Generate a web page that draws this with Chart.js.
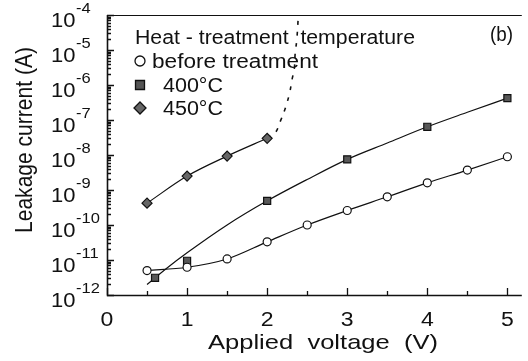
<!DOCTYPE html>
<html><head><meta charset="utf-8">
<script src="https://cdn.jsdelivr.net/npm/chart.js@4"></script>
<style>html,body{margin:0;padding:0;background:#fff}</style>
</head><body>
<canvas id="c" width="528" height="361" style="display:block;width:528px;height:361px"></canvas>
<script>
// ---- data ----
const voltBefore = [0.5, 1, 1.5, 2, 2.5, 3, 3.5, 4, 4.5, 5];
const currBefore = [5.0e-12, 6.2e-12, 1.07e-11, 3.3e-11, 1.0e-10, 2.6e-10, 6.4e-10, 1.6e-9, 3.7e-9, 8.9e-9];
const volt400 = [0.6, 1, 2, 3, 4, 5];
const curr400 = [3.1e-12, 9.5e-12, 4.9e-10, 7.5e-9, 6.4e-8, 4.2e-7];
const volt450 = [0.5, 1, 1.5, 2];
const curr450 = [4.2e-10, 2.5e-9, 9.3e-9, 3.0e-8];
// guide curves drawn in the figure
const fitVolt400 = [0.5, 0.75, 1, 1.5, 2, 2.5, 3, 3.5, 4, 4.5, 5];
const fitCurr400 = [2.0e-12, 5.9e-12, 1.6e-11, 1.0e-10, 4.9e-10, 2.0e-9, 7.5e-9, 2.2e-8, 6.4e-8, 1.66e-7, 4.2e-7];
const dashVolt = [2.0, 2.10, 2.16, 2.23, 2.28, 2.31, 2.34, 2.35, 2.37, 2.39];
const dashCurr = [3.0e-8, 4.3e-8, 8.7e-8, 2.3e-7, 5.9e-7, 1.4e-6, 3.1e-6, 8.1e-6, 1.95e-5, 1e-4];
// ticks
const xTickValues = [0, 1, 2, 3, 4, 5];
const xTickLabels = ['0', '1', '2', '3', '4', '5'];
const yTickExponents = [-12, -11, -10, -9, -8, -7, -6, -5, -4];
const legendTitle = 'Heat - treatment  temperature';
const seriesNames = ['before treatment', '400°C', '450°C'];
const panelLabel = '(b)';
const xTitle = 'Applied  voltage  (V)';
const yTitle = 'Leakage current (A)';

const FONT = '"Liberation Sans", Arial, Helvetica, sans-serif';
const pts = (xs, ys) => xs.map((x, i) => ({x, y: ys[i]}));

function drawScaled(ctx, text, x, y, sx, size, align) {
  ctx.save();
  ctx.font = size + 'px ' + FONT;
  ctx.translate(x, y);
  ctx.scale(sx, 1);
  ctx.textAlign = align || 'left';
  ctx.textBaseline = 'alphabetic';
  ctx.fillText(text, 0, 0);
  ctx.restore();
}
function drawFit(ctx, text, x, y, w, size, align) {
  ctx.font = size + 'px ' + FONT;
  const m = ctx.measureText(text).width;
  drawScaled(ctx, text, x, y, w / m, size, align);
}

const decor = {
  id: 'decor',
  afterDraw(chart) {
    const ctx = chart.ctx;
    const xs = chart.scales.x, ys = chart.scales.y;
    const a = chart.chartArea;
    ctx.save();
    ctx.strokeStyle = '#111';
    ctx.fillStyle = '#111';
    // frame
    ctx.lineWidth = 1.6;
    ctx.beginPath();
    ctx.moveTo(a.left + 0.5, a.top);
    ctx.lineTo(a.left + 0.5, a.bottom + 0.5);
    ctx.lineTo(a.right, a.bottom + 0.5);
    ctx.stroke();
    ctx.lineWidth = 1;
    ctx.beginPath();
    ctx.moveTo(a.left, a.top + 0.5);
    ctx.lineTo(a.right, a.top + 0.5);
    ctx.stroke();
    // x ticks (inward)
    ctx.lineWidth = 1.3;
    ctx.beginPath();
    xTickValues.forEach(v => {
      const px = Math.round(xs.getPixelForValue(v)) + 0.5;
      ctx.moveTo(px, a.bottom); ctx.lineTo(px, a.bottom - 7);
      const pm = Math.round(xs.getPixelForValue(v + 0.5)) + 0.5;
      if (v + 0.5 <= xs.max) { ctx.moveTo(pm, a.bottom); ctx.lineTo(pm, a.bottom - 4); }
    });
    // y ticks (inward)
    yTickExponents.forEach(e => {
      const py = Math.round(ys.getPixelForValue(Math.pow(10, e))) + 0.5;
      ctx.moveTo(a.left, py); ctx.lineTo(a.left + 7, py);
      if (e < -4) {
        for (let k = 2; k <= 9; k++) {
          const pk = Math.round(ys.getPixelForValue(k * Math.pow(10, e))) + 0.5;
          ctx.moveTo(a.left, pk); ctx.lineTo(a.left + 4, pk);
        }
      }
    });
    ctx.stroke();
    // y tick labels
    yTickExponents.forEach(e => {
      const py = ys.getPixelForValue(Math.pow(10, e));
      drawScaled(ctx, '10', 51, py + 12, 1.1, 20, 'left');
      drawScaled(ctx, String(e), 76, py - 2, 1.1, 15, 'left');
    });
    // x tick labels
    xTickValues.forEach((v, i) => {
      drawScaled(ctx, xTickLabels[i], xs.getPixelForValue(v), 326, 1.15, 20, 'center');
    });
    // axis titles
    drawFit(ctx, xTitle, 323, 349, 230, 21, 'center');
    ctx.save();
    ctx.translate(32, 140);
    ctx.rotate(-Math.PI / 2);
    ctx.font = '21px ' + FONT;
    ctx.textAlign = 'center';
    ctx.textBaseline = 'alphabetic';
    ctx.scale(186 / ctx.measureText(yTitle).width, 1.1);
    ctx.fillText(yTitle, 0, 0);
    ctx.restore();
    // legend
    drawFit(ctx, legendTitle, 135, 44, 280, 20, 'left');
    drawFit(ctx, seriesNames[0], 152, 68, 166, 20, 'left');
    drawFit(ctx, seriesNames[1], 163, 92, 60, 20, 'left');
    drawFit(ctx, seriesNames[2], 163, 115, 60, 20, 'left');
    drawFit(ctx, panelLabel, 490, 41, 23, 20, 'left');
    // legend markers
    ctx.lineWidth = 1.3;
    ctx.beginPath();
    ctx.arc(140, 61, 5, 0, Math.PI * 2);
    ctx.fillStyle = '#fff'; ctx.fill(); ctx.stroke();
    ctx.fillStyle = '#555';
    ctx.beginPath();
    ctx.rect(135.5, 80.5, 9, 9);
    ctx.fill(); ctx.stroke();
    ctx.beginPath();
    ctx.moveTo(140, 102); ctx.lineTo(146, 108); ctx.lineTo(140, 114); ctx.lineTo(134, 108); ctx.closePath();
    ctx.fillStyle = '#666'; ctx.fill(); ctx.stroke();
    ctx.restore();
  }
};

new Chart(document.getElementById('c'), {
  type: 'scatter',
  data: {
    datasets: [
      {
        data: pts(voltBefore, currBefore), showLine: true,
        borderColor: '#111', borderWidth: 1.2, cubicInterpolationMode: 'monotone',
        pointStyle: 'circle', pointRadius: 4, pointBackgroundColor: '#fff',
        pointBorderColor: '#111', pointBorderWidth: 1.2
      },
      {
        data: pts(volt400, curr400), showLine: false,
        pointStyle: 'rect', pointRadius: 5, pointBackgroundColor: '#585858',
        pointBorderColor: '#111', pointBorderWidth: 1.2
      },
      {
        data: pts(volt450, curr450), showLine: true,
        borderColor: '#111', borderWidth: 1.2, cubicInterpolationMode: 'monotone',
        pointStyle: 'rectRot', pointRadius: 5, pointBackgroundColor: '#666',
        pointBorderColor: '#111', pointBorderWidth: 1.2
      },
      {
        data: pts(fitVolt400, fitCurr400), showLine: true,
        borderColor: '#111', borderWidth: 1.2, cubicInterpolationMode: 'monotone',
        pointRadius: 0
      },
      {
        data: pts(dashVolt, dashCurr), showLine: true,
        borderColor: '#111', borderWidth: 1.6, borderDash: [4, 7], tension: 0.4,
        pointRadius: 0
      }
    ]
  },
  options: {
    responsive: false,
    animation: false,
    events: [],
    layout: {padding: {top: 15, right: 0, left: 0, bottom: 0}},
    plugins: {legend: {display: false}, tooltip: {enabled: false}},
    scales: {
      x: {
        type: 'linear', min: 0, max: 5.18,
        grid: {display: false}, border: {display: false}, ticks: {display: false},
        afterFit(s) { s.height = 66; }
      },
      y: {
        type: 'logarithmic', min: 1e-12, max: 1e-4,
        grid: {display: false}, border: {display: false}, ticks: {display: false},
        afterFit(s) { s.width = 107; }
      }
    }
  },
  plugins: [decor]
});
</script>
</body></html>
